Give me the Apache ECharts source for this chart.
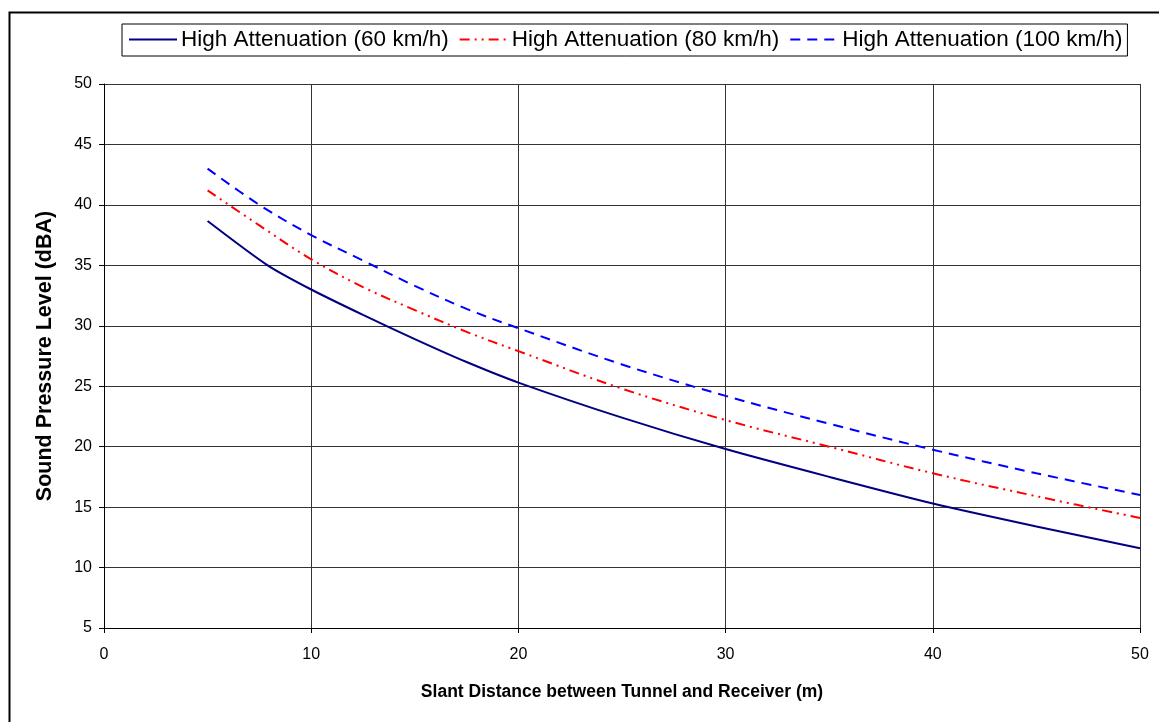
<!DOCTYPE html>
<html>
<head>
<meta charset="utf-8">
<script src="https://cdn.jsdelivr.net/npm/echarts@6/dist/echarts.min.js"></script>
<style>
  html, body { margin: 0; padding: 0; background: #fff; }
  #main { width: 1159px; height: 722px; }
</style>
</head>
<body>
<div id="main"></div>
<script>
// values
let names = ['High Attenuation (60 km/h)', 'High Attenuation (80 km/h)', 'High Attenuation (100 km/h)'];

let dist60 = [5, 7.9, 10, 12.5, 15, 17.5, 20, 25, 30, 35, 40, 45, 50];
let spl60 = [38.67, 35.0, 33.0, 30.9, 28.9, 27.0, 25.3, 22.4, 19.8, 17.5, 15.3, 13.4, 11.6];

let dist = [5, 7.5, 10, 12.5, 15, 17.5, 20, 25, 30, 35, 40, 45, 50];
let spl80 = [41.2, 38.3, 35.5, 33.2, 31.3, 29.5, 27.9, 24.8, 22.2, 20.0, 17.8, 15.9, 14.1];
let spl100 = [43.0, 40.0, 37.5, 35.4, 33.3, 31.4, 29.8, 26.8, 24.2, 21.9, 19.75, 17.8, 16.0];

function pairs(xs, ys) {
  return xs.map(function (x, i) { return [x, ys[i]]; });
}

let font = 'Liberation Sans, Arial, sans-serif';
let myChart = echarts.init(document.getElementById('main'), null, { renderer: 'canvas' });

let option = {
  backgroundColor: '#fff',
  animation: false,
  graphic: [{
    type: 'rect',
    shape: { x: 9.5, y: 12.5, width: 1160, height: 720 },
    style: { fill: 'none', stroke: '#000', lineWidth: 2 },
    silent: true
  }],
  legend: {
    left: 122,
    top: 24,
    padding: [4, 5, 5, 6],
    borderColor: '#000',
    borderWidth: 1,
    itemWidth: 48,
    itemHeight: 14,
    itemGap: 10,
    itemStyle: { opacity: 0 },
    textStyle: { fontFamily: font, fontSize: 22.5, color: '#000', padding: [0, 0, 0, -1] },
    data: names
  },
  grid: { left: 104, right: 19, top: 84, bottom: 94 },
  xAxis: {
    type: 'value',
    min: 0, max: 50, interval: 10,
    name: 'Slant Distance between Tunnel and Receiver (m)',
    nameLocation: 'middle',
    nameGap: 55,
    nameTextStyle: { fontFamily: font, fontSize: 17.5, fontWeight: 'bold', color: '#000' },
    axisLine: { show: true, lineStyle: { color: '#000', width: 1 } },
    axisTick: { show: true, inside: false, length: 5, lineStyle: { color: '#000' } },
    axisLabel: { fontFamily: font, fontSize: 16, color: '#000', margin: 19 },
    splitLine: { show: true, lineStyle: { color: '#333', width: 1 } }
  },
  yAxis: {
    type: 'value',
    min: 5, max: 50, interval: 5,
    name: 'Sound Pressure Level (dBA)',
    nameLocation: 'middle',
    nameGap: 48,
    nameTextStyle: { fontFamily: font, fontSize: 21.5, fontWeight: 'bold', color: '#000' },
    axisLine: { show: true, lineStyle: { color: '#000', width: 1 } },
    axisTick: { show: true, inside: false, length: 5, lineStyle: { color: '#000' } },
    axisLabel: { fontFamily: font, fontSize: 16, color: '#000', margin: 12 },
    splitLine: { show: true, lineStyle: { color: '#333', width: 1 } }
  },
  series: [
    {
      name: names[0],
      type: 'line',
      data: pairs(dist60, spl60),
      smooth: 0.25,
      symbol: 'none',
      color: '#000080',
      lineStyle: { color: '#000080', width: 2, type: 'solid' }
    },
    {
      name: names[1],
      type: 'line',
      data: pairs(dist, spl80),
      smooth: 0.35,
      symbol: 'none',
      color: '#ff0000',
      lineStyle: { color: '#ff0000', width: 2, type: [10, 5, 2, 5, 2, 5] }
    },
    {
      name: names[2],
      type: 'line',
      data: pairs(dist, spl100),
      smooth: 0.35,
      symbol: 'none',
      color: '#0000ff',
      lineStyle: { color: '#0000ff', width: 2, type: [10, 7] }
    }
  ]
};
myChart.setOption(option);
</script>
</body>
</html>
